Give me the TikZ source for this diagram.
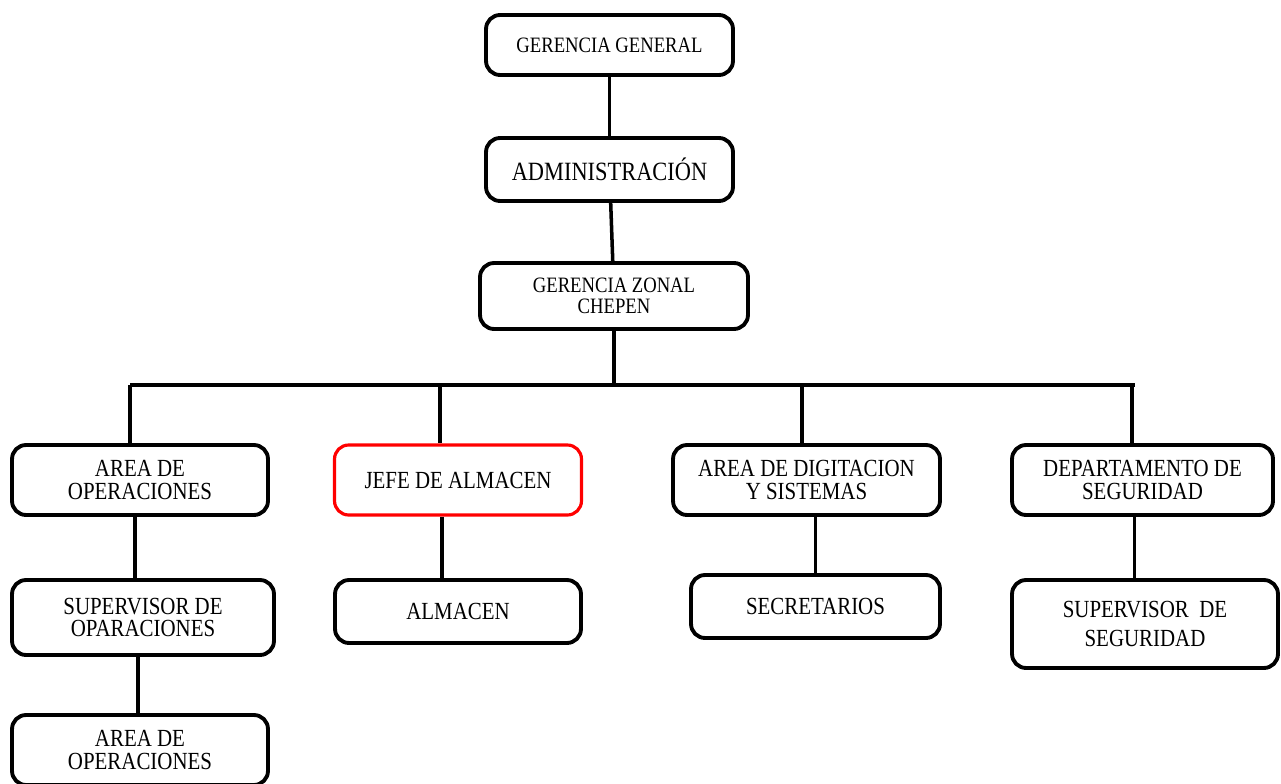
\documentclass[tikz,border=0pt]{standalone}
\usepackage{fontspec}
\setmainfont{Liberation Serif}[FakeStretch=0.85]
\tikzset{
  box/.style={draw, line width=2.2pt, rounded corners=8pt, inner sep=0pt,
    align=center, minimum height=1.4cm, font=\fontsize{14}{13}\selectfont},
  bossbox/.style={box, draw=red, line width=1.8pt},
  link/.style={line width=2pt},
  bus/.style={line width=2.8pt}
}
\begin{document}
\begin{tikzpicture}[x=0.02cm, y=-0.02cm]
  \useasboundingbox (0,0) rectangle (1281,784);
  \draw
    (609.5,45) node[box, minimum width=4.94cm, minimum height=1.2cm, font=\fontsize{12.5}{13}\selectfont] (gg) {GERENCIA GENERAL}
    (609.5,169.5) node[box, minimum width=4.94cm, minimum height=1.26cm, font=\fontsize{15}{15}\selectfont] (adm) {ADMINISTRACIÓN}
    (614,296) node[box, minimum width=5.36cm, minimum height=1.32cm, font=\fontsize{12.5}{12}\selectfont] (gz) {GERENCIA ZONAL\\CHEPEN}
    (140,480) node[box, minimum width=5.12cm] (ops) {AREA DE\\OPERACIONES}
    (458,480) node[bossbox, minimum width=4.94cm] (jefe) {JEFE DE ALMACEN}
    (806.5,480) node[box, minimum width=5.34cm] (digit) {AREA DE DIGITACION\\Y SISTEMAS}
    (1142.5,480) node[box, minimum width=5.22cm] (segur) {DEPARTAMENTO DE\\SEGURIDAD}
    (143,617.5) node[box, minimum width=5.24cm, minimum height=1.5cm] (supops) {SUPERVISOR DE\\OPARACIONES}
    (458,611.5) node[box, minimum width=4.92cm, minimum height=1.26cm] (alm) {ALMACEN}
    (815.5,606.5) node[box, minimum width=4.98cm, minimum height=1.26cm] (secre) {SECRETARIOS}
    (1145,624) node[box, minimum width=5.32cm, minimum height=1.76cm, font=\fontsize{14}{16}\selectfont] (supseg) {SUPERVISOR\ \ DE\\SEGURIDAD}
    (140,750) node[box, minimum width=5.12cm] (ops2) {AREA DE\\OPERACIONES};
  \coordinate (busl) at (130,385);
  \coordinate (busr) at (1135,385);
  \coordinate (d2) at (440,385);
  \coordinate (d3) at (802,385);
  \coordinate (d4) at (1132,385);
  \begin{scope}[link]
    \draw (gg) to (adm);
    \draw (adm) to (gz);
    \draw (gz.south) to (gz.south |- busl);
    \draw[bus] (busl) to (busr);
    \draw (busl) to (busl |- ops.north);
    \draw (d2) to (d2 |- jefe.north);
    \draw (d3) to (d3 |- digit.north);
    \draw (d4) to (d4 |- segur.north);
    \draw ([xshift=-0.1cm]ops.south) to ([xshift=-0.1cm]ops.south |- supops.north);
    \draw ([xshift=-0.1cm]supops.south) to ([xshift=-0.1cm]supops.south |- ops2.north);
    \draw ([xshift=-0.32cm]jefe.south) to ([xshift=-0.32cm]jefe.south |- alm.north);
    \draw (secre.north) to (secre.north |- digit.south);
    \draw ([xshift=-0.16cm]segur.south) to ([xshift=-0.16cm]segur.south |- supseg.north);
  \end{scope}
\end{tikzpicture}
\end{document}
